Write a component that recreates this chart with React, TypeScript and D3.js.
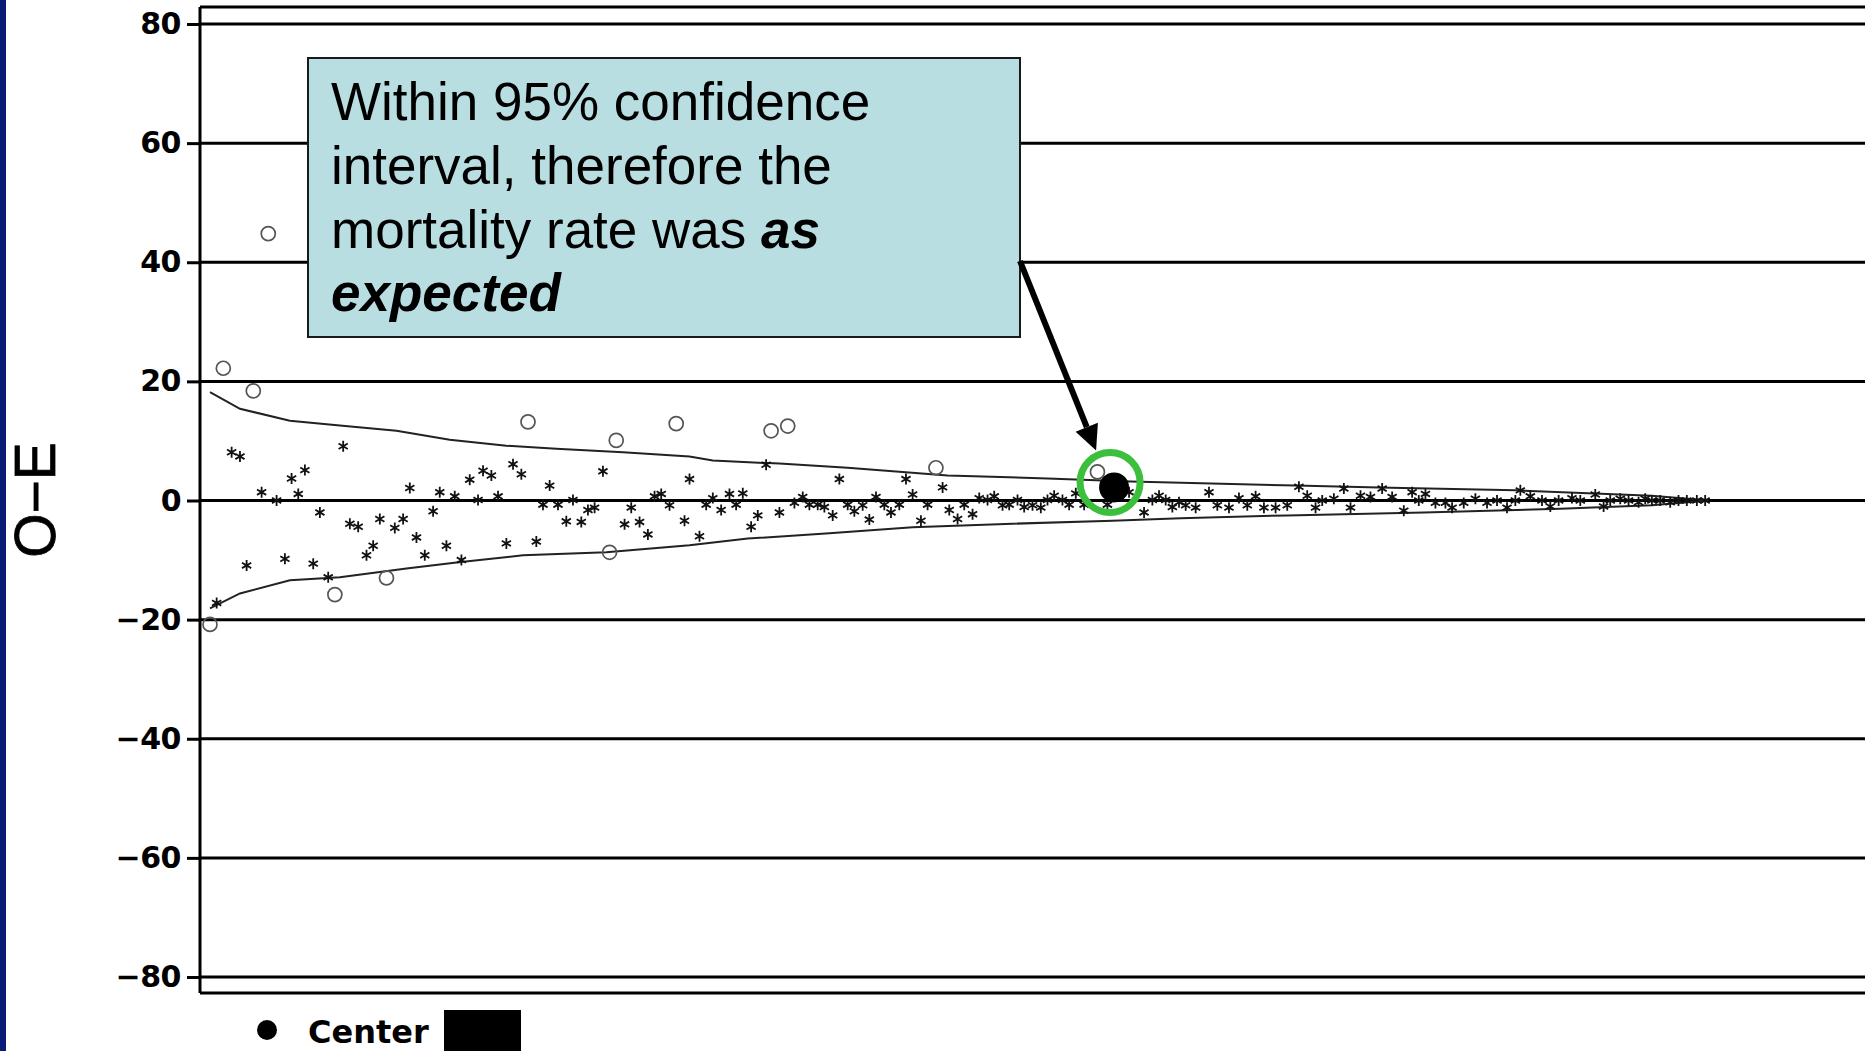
import { useEffect, useRef } from "react"
import * as d3 from "d3"

// y axis ticks (O - E)
const yTicks = [80, 60, 40, 20, 0, -20, -40, -60, -80]

// 95% control limits (x = position along the funnel, 0..100)
const upperX = [0.6, 2.4, 5.4, 8.4, 11.8, 15.0, 18.4, 21.4, 25.4, 29.4, 30.8, 34.8, 38.9, 44.9, 50.9, 55.9, 65.8, 70.8, 79.0, 87.2, 90.6]
const upperY = [18.2, 15.4, 13.4, 12.6, 11.7, 10.2, 9.2, 8.7, 8.1, 7.4, 6.7, 6.2, 5.5, 4.2, 3.7, 3.2, 2.5, 2.2, 1.7, 0.8, 0]
const lowerX = [0.6, 2.4, 5.4, 8.4, 12.4, 15.4, 19.4, 24.4, 29.4, 32.9, 37.8, 42.8, 48.8, 54.8, 58.9, 65.3, 73.5, 81.7, 87.2, 90.6]
const lowerY = [-18.1, -15.6, -13.4, -12.9, -11.4, -10.4, -9.2, -8.7, -7.5, -6.4, -5.5, -4.5, -3.9, -3.4, -3.0, -2.5, -2.0, -1.4, -0.8, 0]

// centres drawn as open circles
const circleX = [4.1, 1.4, 3.2, 0.6, 8.1, 11.2, 19.7, 25.0, 28.6, 24.6, 34.3, 35.3, 44.2, 53.9]
const circleY = [44.8, 22.2, 18.4, -20.8, -15.8, -13.0, 13.2, 10.1, 12.9, -8.7, 11.7, 12.5, 5.5, 4.8]

// centres drawn as asterisks
const starX = [
  1.9, 2.4, 3.7, 4.6, 5.5, 6.3, 5.9, 2.8, 1.0, 5.1, 6.8, 7.7, 8.6, 7.2, 9.0, 9.5, 10.0, 10.4, 10.8, 11.7,
  12.2, 12.6, 13.0, 13.5, 14.0, 14.4, 14.8, 15.3, 15.7, 16.2, 16.7, 17.0, 17.5, 17.9, 18.4, 18.8, 19.3, 20.2, 20.6, 21.0,
  21.5, 22.0, 22.4, 22.9, 23.3, 23.7, 24.2, 25.5, 25.9, 26.4, 26.9, 27.3, 27.7, 28.2, 29.1, 29.4,
  30.0, 30.4, 30.8, 31.3, 31.8, 32.2, 32.6, 33.1, 33.5, 34.0, 34.8, 35.7, 36.2, 36.6, 37.1, 37.5, 38.0, 38.4, 38.9, 39.3,
  39.8, 40.2, 40.6, 41.1, 41.5, 42.0, 42.4, 42.8, 43.3, 43.7, 44.6, 45.0, 45.5, 45.9, 46.4, 46.8, 47.3, 47.7, 48.2, 48.6,
  49.1, 49.5, 50.0, 50.5, 50.9, 51.3, 51.8, 52.2, 52.6, 53.1, 54.5, 55.8, 56.7, 57.2, 57.6, 58.0, 58.4, 58.8,
  59.2, 59.8, 60.6, 61.1, 61.8, 62.4, 62.9, 63.4, 63.9, 64.6, 65.3, 66.0, 66.5, 67.0, 67.4, 68.1, 68.7, 69.1, 69.7, 70.3,
  71.0, 71.6, 72.3, 72.8, 73.2, 73.6, 74.2, 74.8, 75.2, 75.9, 76.6, 77.3, 77.9, 78.5, 79.0, 79.3, 79.9, 80.6, 81.1, 81.6,
  82.4, 82.9, 83.8, 84.3, 84.7, 85.3, 85.8, 86.4, 86.8, 87.2, 87.7, 88.3, 88.8, 89.3, 89.9, 90.4,
]
const starY = [
  8.1, 7.4, 1.4, 0, 3.7, 5.1, 1.1, -10.9, -17.2, -9.8, -10.6, -12.9, 9.1, -2.0, -3.9, -4.4, -9.2, -7.6, -3.1, -4.6,
  -3.1, 2.1, -6.2, -9.2, -1.8, 1.4, -7.6, 0.7, -10.0, 3.5, 0.1, 5.0, 4.2, 0.7, -7.2, 6.1, 4.4, -6.9, -0.7, 2.5,
  -0.7, -3.5, 0.1, -3.6, -1.6, -1.2, 4.9, -4.0, -1.2, -3.6, -5.7, 0.7, 1.1, -0.8, -3.4, 3.6,
  -6.0, -0.7, 0.4, -1.6, 1.1, -0.7, 1.2, -4.4, -2.5, 6.0, -2.0, -0.4, 0.6, -0.7, -0.7, -1.1, -2.5, 3.6, -0.7, -1.8,
  -0.8, -3.2, 0.6, -0.7, -2.0, -0.7, 3.6, 1.0, -3.4, -0.7, 2.2, -1.6, -3.1, -0.7, -2.3, 0.4, 0.1, 0.7, -0.8, -0.7,
  0.1, -1.1, -0.8, -1.2, 0.1, 0.8, 0.1, -0.7, 1.2, -0.7, -0.7, 1.4, -2.0, 0.1, 0.8, 0.1, -1.1, -0.3,
  -0.8, -1.2, 1.4, -0.8, -1.2, 0.4, -0.8, 0.7, -1.2, -1.2, -0.8, 2.3, 0.8, -1.2, 0, 0.3, 2.0, -1.2, 0.8, 0.6,
  2.0, 0.6, -1.7, 1.4, 0, 1.1, -0.4, -0.4, -1.2, -0.4, 0.3, -0.4, 0, -1.2, 0, 1.7, 0.7, 0, -1.0, 0,
  0.4, 0, 1.0, -1.0, 0, 0.3, 0, -0.3, 0.3, 0, 0, -0.3, 0, 0, 0, 0,
]

// highlighted centre
const centerX = 54.9
const centerY = 2.2

const noteLines = ["Within 95% confidence", "interval, therefore the", "mortality rate was ", "as", "expected"]

export default function App() {
  const svgRef = useRef<SVGSVGElement>(null)

  useEffect(() => {
    if (!svgRef.current) return
    const W = 1865
    const H = 1051
    const svg = d3.select(svgRef.current)
    svg.selectAll("*").remove()

    const x = d3.scaleLinear().domain([0, 100]).range([200, W])
    const y = d3.scaleLinear().domain([-80, 80]).range([977, 24])
    const left = 200
    const top = 7
    const bottom = 993

    svg.append("rect").attr("width", W).attr("height", H).attr("fill", "#fff")
    svg.append("rect").attr("width", 6).attr("height", H).attr("fill", "#0b1c78")

    // grid lines
    svg.append("g")
      .selectAll("line")
      .data(yTicks)
      .join("line")
      .attr("x1", left)
      .attr("x2", W)
      .attr("y1", (d) => y(d))
      .attr("y2", (d) => y(d))
      .attr("stroke", "#000")
      .attr("stroke-width", 3)

    // y axis
    const axis = svg.append("g")
      .attr("transform", `translate(${left},0)`)
      .call(d3.axisLeft(y).tickValues(yTicks).tickSize(13).tickPadding(6).tickFormat(d3.format("d")))
    axis.select(".domain").remove()
    axis.selectAll("line").attr("stroke", "#000").attr("stroke-width", 3)
    axis.selectAll("text")
      .attr("font-family", "DejaVu Sans")
      .attr("font-weight", "bold")
      .attr("font-size", 30)
      .attr("letter-spacing", -0.5)
      .attr("fill", "#000")

    // frame
    const frame = svg.append("g").attr("stroke", "#000").attr("stroke-width", 3)
    frame.append("line").attr("x1", left).attr("x2", W).attr("y1", top).attr("y2", top)
    frame.append("line").attr("x1", left).attr("x2", left).attr("y1", top).attr("y2", bottom)
    frame.append("line").attr("x1", left).attr("x2", W).attr("y1", bottom).attr("y2", bottom)

    svg.append("text")
      .attr("transform", `translate(55,500) rotate(-90)`)
      .attr("text-anchor", "middle")
      .attr("font-family", "Liberation Sans, Arial, sans-serif")
      .attr("font-size", 57)
      .attr("stroke", "#000")
      .attr("stroke-width", 0.8)
      .attr("fill", "#000")
      .text("O\u2212E")

    // control limits
    const line = d3.line<[number, number]>().x((d) => x(d[0])).y((d) => y(d[1]))
    svg.append("path")
      .attr("d", line(upperX.map((v, i) => [v, upperY[i]]))!)
      .attr("fill", "none").attr("stroke", "#222").attr("stroke-width", 2)
    svg.append("path")
      .attr("d", line(lowerX.map((v, i) => [v, lowerY[i]]))!)
      .attr("fill", "none").attr("stroke", "#222").attr("stroke-width", 2)

    // asterisks
    const star = "M0,-5.5V5.5M-4.6,-2.7L4.6,2.7M-4.6,2.7L4.6,-2.7"
    svg.append("g")
      .selectAll("path")
      .data(starX.map((v, i) => [v, starY[i]]))
      .join("path")
      .attr("transform", (d) => `translate(${x(d[0])},${y(d[1])})`)
      .attr("d", star)
      .attr("stroke", "#111")
      .attr("stroke-width", 1.8)
      .attr("fill", "none")

    // open circles
    svg.append("g")
      .selectAll("circle")
      .data(circleX.map((v, i) => [v, circleY[i]]))
      .join("circle")
      .attr("cx", (d) => x(d[0]))
      .attr("cy", (d) => y(d[1]))
      .attr("r", 7)
      .attr("fill", "none")
      .attr("stroke", "#555")
      .attr("stroke-width", 1.7)

    // highlighted centre
    const cx = x(centerX)
    const cy = y(centerY)
    svg.append("circle").attr("cx", cx).attr("cy", cy).attr("r", 15).attr("fill", "#000")
    svg.append("circle").attr("cx", cx - 4).attr("cy", cy - 5).attr("r", 30)
      .attr("fill", "none").attr("stroke", "#3cbf3c").attr("stroke-width", 7)

    // annotation box
    const bx = 308, by = 58, bw = 712, bh = 279
    svg.append("rect").attr("x", bx).attr("y", by).attr("width", bw).attr("height", bh)
      .attr("fill", "#b9dee2").attr("stroke", "#1a1a1a").attr("stroke-width", 2)
    const note = svg.append("text")
      .attr("font-family", "Liberation Sans, Arial, sans-serif")
      .attr("font-size", 53)
      .attr("fill", "#000")
    note.append("tspan").attr("x", bx + 23).attr("y", 120).text(noteLines[0])
    note.append("tspan").attr("x", bx + 23).attr("y", 184).text(noteLines[1])
    note.append("tspan").attr("x", bx + 23).attr("y", 248).text(noteLines[2])
    note.append("tspan").attr("font-weight", "bold").attr("font-style", "italic").text(noteLines[3])
    note.append("tspan").attr("x", bx + 23).attr("y", 311)
      .attr("font-weight", "bold").attr("font-style", "italic").text(noteLines[4])

    // arrow
    const sx = bx + bw, sy = 261
    const tx = cx - 18, ty = cy - 37
    const ang = Math.atan2(ty - sy, tx - sx)
    const hl = 25, hw = 12
    const baseX = tx - hl * Math.cos(ang), baseY = ty - hl * Math.sin(ang)
    svg.append("line").attr("x1", sx).attr("y1", sy).attr("x2", baseX).attr("y2", baseY)
      .attr("stroke", "#000").attr("stroke-width", 6)
    svg.append("path")
      .attr("d", `M${tx},${ty}L${baseX + hw * Math.sin(ang)},${baseY - hw * Math.cos(ang)}L${baseX - hw * Math.sin(ang)},${baseY + hw * Math.cos(ang)}Z`)
      .attr("fill", "#000")

    // legend
    svg.append("circle").attr("cx", 267).attr("cy", 1030).attr("r", 10).attr("fill", "#000")
    svg.append("text").attr("x", 308).attr("y", 1043)
      .attr("font-family", "DejaVu Sans").attr("font-weight", "bold").attr("font-size", 32)
      .attr("fill", "#000").text("Center")
    svg.append("rect").attr("x", 444).attr("y", 1010).attr("width", 77).attr("height", 41).attr("fill", "#000")
  }, [])

  return (
    <div style={{ position: "absolute", left: 0, top: 0, width: 1865, height: 1051, overflow: "hidden" }}>
      <svg ref={svgRef} width={1865} height={1051} style={{ display: "block" }} />
    </div>
  )
}
